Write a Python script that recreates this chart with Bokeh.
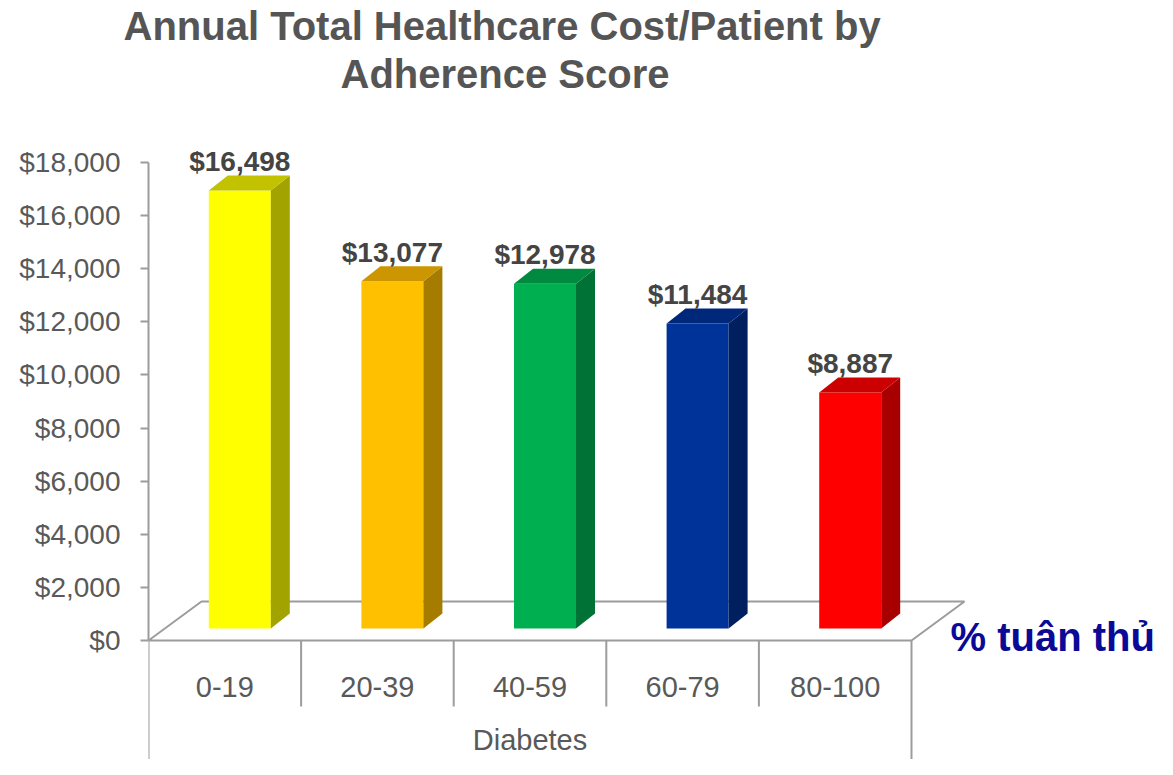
from bokeh.plotting import figure
from bokeh.models import (Range1d, LinearAxis, FixedTicker, NumeralTickFormatter,
                          Title, ColumnDataSource)
from bokeh.core.properties import value
from bokeh.embed import file_html
from bokeh.resources import INLINE

# ---------------- data ----------------
categories = ["0-19", "20-39", "40-59", "60-79", "80-100"]
costs = [16498, 13077, 12978, 11484, 8887]
y_ticks = [0, 2000, 4000, 6000, 8000, 10000, 12000, 14000, 16000, 18000]
title_lines = ["Annual Total Healthcare Cost/Patient by", "Adherence Score"]
group_label = "Diabetes"
side_label = "% tuân thủ"

# ---------------- styles ----------------
front_colors = ["#FFFF00", "#FFC000", "#00B050", "#003399", "#FF0000"]
side_colors = ["#A3A300", "#A67C00", "#007236", "#001F5E", "#A80000"]
top_colors = ["#C2C200", "#CC9600", "#008A40", "#00287A", "#CC0000"]
FONT = "Liberation Sans"
GRAY_TXT = "#595959"
LINE = "#9C9C9C"

W, H = 1157, 759
FRAME_LEFT = 148
FRAME_TOP = 97
ZERO_Y = 640                 # pixel row of $0 inside the figure
PX_X = 152.6                 # pixels per category
PX_Y = 478.0 / 18000.0       # pixels per dollar

x_start = -0.5
x_end = x_start + (W - FRAME_LEFT) / PX_X
y_end = (ZERO_Y - FRAME_TOP) / PX_Y
y_start = -(H - ZERO_Y) / PX_Y

# 3D projection offsets (in data units)
HALF_W = 31 / PX_X
FX, FY = 15 / PX_X, 12 / PX_Y       # front face shift from floor front
SX, SY = 19 / PX_X, 15 / PX_Y       # bar depth
DX, DY = 53 / PX_X, 39 / PX_Y       # floor depth

p = figure(width=W, height=H, title=None,
           x_range=Range1d(x_start, x_end), y_range=Range1d(y_start, y_end),
           x_axis_type=None, y_axis_type=None,
           output_backend="svg", toolbar_location=None,
           min_border_left=FRAME_LEFT, min_border_right=0,
           min_border_bottom=0, min_border_top=FRAME_TOP)
p.outline_line_color = None
p.background_fill_color = "white"
p.border_fill_color = "white"

# title (two lines, second added first so it sits nearest the frame)
t2 = Title(text=title_lines[1], align="left", offset=192,
           text_font=FONT, text_font_size="40px", text_font_style="bold",
           text_color="#555555", standoff=4)
t1 = Title(text=title_lines[0], align="left", offset=-25,
           text_font=FONT, text_font_size="40px", text_font_style="bold",
           text_color="#555555", standoff=0)
p.add_layout(t2, "above")
p.add_layout(t1, "above")

# y axis
yaxis = LinearAxis(ticker=FixedTicker(ticks=y_ticks),
                   formatter=NumeralTickFormatter(format="$0,0"),
                   bounds=(y_ticks[0], y_ticks[-1]))
yaxis.axis_line_color = LINE
yaxis.axis_line_width = 2
yaxis.major_tick_line_color = LINE
yaxis.major_tick_line_width = 2
yaxis.major_tick_out = 8
yaxis.major_tick_in = 0
yaxis.minor_tick_line_color = None
yaxis.major_label_standoff = 20
yaxis.major_label_text_font = FONT
yaxis.major_label_text_font_size = "28px"
yaxis.major_label_text_color = GRAY_TXT
p.add_layout(yaxis, "left")

n = len(categories)
idx = list(range(n))

# floor (parallelogram)
x0, x1 = -0.5, n - 0.5
p.line([x0, x1, x1 + DX, x0 + DX, x0], [0, 0, DY, DY, 0],
       line_color=LINE, line_width=2)

# box below the floor
p.multi_line([[x0, x0], [x1, x1]], [[0, y_start], [0, y_start]],
             line_color=LINE, line_width=2)
sep_bottom = -66 / PX_Y
p.multi_line([[i + 0.5, i + 0.5] for i in idx[:-1]],
             [[0, sep_bottom] for _ in idx[:-1]],
             line_color=LINE, line_width=2)

# 3D bars
fl = [i + FX - HALF_W for i in idx]
fr = [i + FX + HALF_W for i in idx]
fb = [FY] * n
ft = [c + FY for c in costs]

p.quad(left=fl, right=fr, bottom=fb, top=ft,
       fill_color=front_colors, line_color=None)
side_xs = [[fr[i], fr[i] + SX, fr[i] + SX, fr[i]] for i in idx]
side_ys = [[fb[i], fb[i] + SY, ft[i] + SY, ft[i]] for i in idx]
p.patches(side_xs, side_ys, fill_color=side_colors, line_color=None)
top_xs = [[fl[i], fl[i] + SX, fr[i] + SX, fr[i]] for i in idx]
top_ys = [[ft[i], ft[i] + SY, ft[i] + SY, ft[i]] for i in idx]
p.patches(top_xs, top_ys, fill_color=top_colors, line_color=None)

# value labels
lab_src = ColumnDataSource(dict(
    x=[i + FX for i in idx],
    y=[c + FY + SY for c in costs],
    text=["${:,}".format(c) for c in costs]))
p.text(x="x", y="y", text="text", source=lab_src, text_align="center",
       text_baseline="alphabetic", y_offset=-14,
       text_font=value(FONT), text_font_size="28px", text_font_style="bold",
       text_color="#444444")

# category labels
cat_src = ColumnDataSource(dict(x=idx, y=[-46 / PX_Y] * n, text=categories))
p.text(x="x", y="y", text="text", source=cat_src, text_align="center",
       text_baseline="middle", text_font=value(FONT), text_font_size="29px",
       text_color=GRAY_TXT)

# group label
p.text(x=[(n - 1) / 2], y=[-99 / PX_Y], text=[group_label],
       text_align="center", text_baseline="middle", text_font=value(FONT),
       text_font_size="29px", text_color=GRAY_TXT)

# side label
p.text(x=[x1 + 39 / PX_X], y=[4 / PX_Y], text=[side_label],
       text_align="left", text_baseline="middle", text_font=value(FONT),
       text_font_size="40px", text_font_style="bold", text_color="#0A0A96")

open("out.html", "w").write(file_html(p, INLINE))
